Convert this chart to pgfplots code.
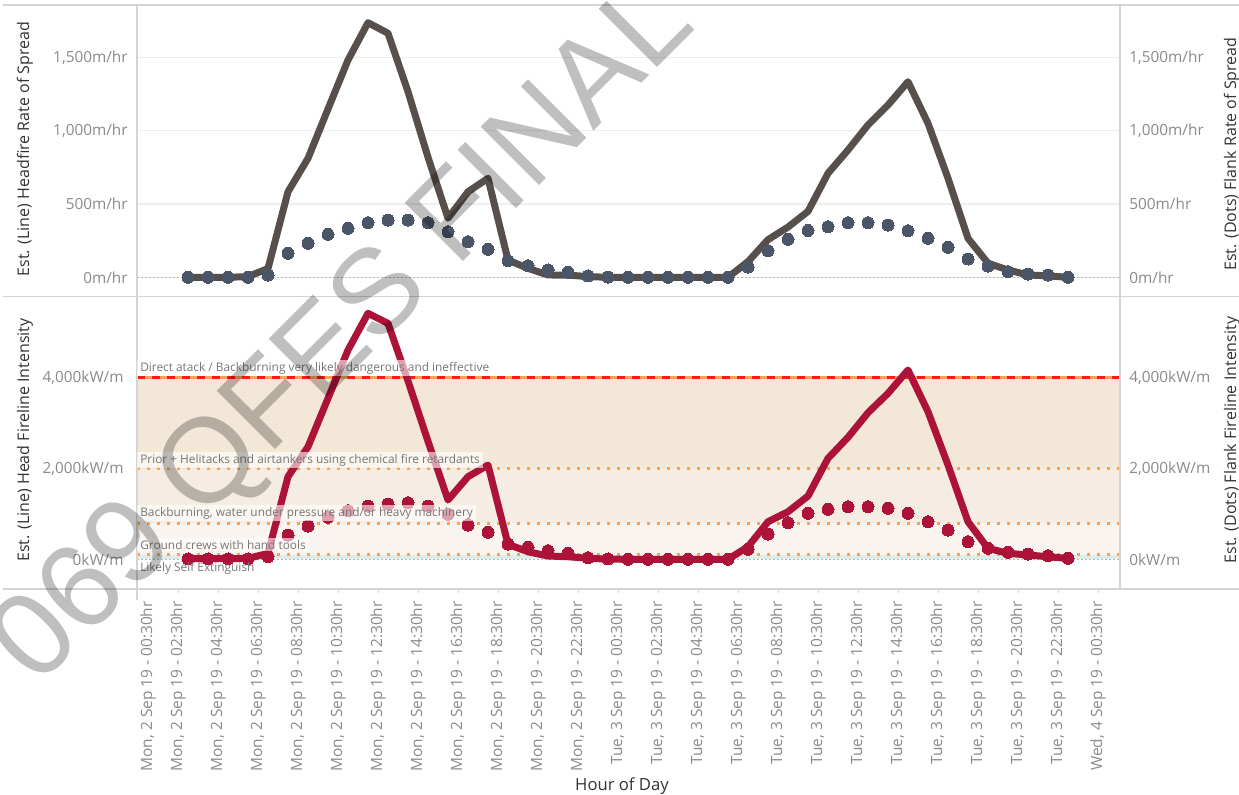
\documentclass[border=0pt]{standalone}
\usepackage{pgfplots}
\usepackage{pgfplotstable}
\pgfplotsset{compat=1.18}
\usepackage{fontspec}
\setmainfont{Open Sans}
\newfontfamily\wmfont{Liberation Sans}

\definecolor{rosline}{HTML}{574F4C}
\definecolor{rosdot}{HTML}{4A5568}
\definecolor{filine}{HTML}{AD1339}
\definecolor{ticklab}{HTML}{8A8A8A}
\definecolor{titlec}{HTML}{333333}
\definecolor{gridc}{HTML}{EEEEEE}
\definecolor{framec}{HTML}{D4D4D4}
\definecolor{zeroc}{HTML}{B8B8B8}
\definecolor{bandA}{HTML}{F3E8D8}
\definecolor{bandB}{HTML}{F5EDE3}
\definecolor{bandC}{HTML}{F9F4EF}
\definecolor{bandD}{HTML}{DDEDEA}
\definecolor{orng}{HTML}{F7A354}
\definecolor{redl}{HTML}{FF1A1A}
\definecolor{labc}{HTML}{777777}

\newcommand{\firstlab}{Mon, 2 Sep 19 - 00:30hr}

% h = hours after Mon 2 Sep 00:00
\pgfplotstableread{
h ros fros fi ffi
3 0 0 15 10
4 0 0 15 10
5 0 0 15 10
6 5 0 20 10
7 60 15 130 60
8 584 164 1820 535
9 812 232 2480 733
10 1149 293 3546 925
11 1483 334 4610 1070
12 1738 373 5419 1174
13 1666 391 5198 1218
14 1267 391 3930 1247
15 820 373 2600 1174
16 403 311 1306 991
17 584 243 1820 755
18 676 191 2077 595
19 118 113 330 337
20 61 79 167 264
21 16 50 73 190
22 15 34 57 132
23 5 9 22 35
24 0 2 5 8
25 0 0 0 0
26 0 0 0 0
27 0 0 0 0
28 0 0 0 0
29 0 0 0 0
30 0 0 0 0
31 107 70 278 220
32 257 182 828 557
33 343 259 1048 806
34 450 320 1394 1013
35 710 346 2225 1101
36 869 373 2687 1159
37 1040 373 3229 1159
38 1176 357 3656 1123
39 1335 318 4170 1013
40 1051 266 3251 828
41 676 205 2077 645
42 266 125 828 388
43 96 77 242 242
44 50 38 132 154
45 16 22 95 117
46 10 15 57 79
47 0 0 20 22
}\firedata

\pgfplotsset{
  base/.style={scale only axis, width=737.25pt, xmin=0.45, xmax=49.6,
    axis line style={draw=none},
    tick label style={font=\fontsize{11.5}{13}\selectfont, text=ticklab},
    ytick style={draw=none}},
  leftlab/.style={yticklabel style={xshift=-3.5pt}},
  rightlab/.style={yticklabel style={xshift=3.5pt}},
  headline/.style={line width=5.25pt, line join=round, line cap=round},
}

\begin{document}
\begin{tikzpicture}

% ---------- top panel: rate of spread ----------
\begin{axis}[base, leftlab, at={(102.75pt,-3.75pt)}, anchor=north west, height=218.25pt,
  ymin=-127.6, ymax=1858.7, hide x axis, axis y line*=left,
  ytick={0,500,1000,1500}, yticklabels={0m/hr,500m/hr,{1,000m/hr},{1,500m/hr}},
  ymajorgrids, grid style={gridc, line width=1pt}]
\addplot[zeroc, line width=0.75pt, dash pattern=on 1.5pt off 1.5pt] coordinates {(0.45,0) (49.6,0)};
\addplot[rosline, headline] table[x=h, y=ros] {\firedata};
\end{axis}
\begin{axis}[base, rightlab, at={(102.75pt,-3.75pt)}, anchor=north west, height=218.25pt,
  ymin=-127.6, ymax=1858.7, hide x axis, axis y line*=right,
  ytick={0,500,1000,1500}, yticklabels={0m/hr,500m/hr,{1,000m/hr},{1,500m/hr}}]
\addplot[rosdot, only marks, mark=*, mark size=4.5pt, mark options={draw=rosdot, fill=rosdot, line width=0pt}] table[x=h, y=fros] {\firedata};
\end{axis}

% ---------- bottom panel: fireline intensity ----------
\begin{axis}[base, leftlab, at={(102.75pt,-222pt)}, anchor=north west, height=219.75pt,
  ymin=-654, ymax=5800, axis y line*=left, axis x line*=bottom,
  ytick={0,2000,4000}, yticklabels={0kW/m,{2,000kW/m},{4,000kW/m}},
  tick align=outside, major tick length=3pt, xtick style={framec, line width=0.75pt},
  xtick={2.5,4.5,...,48.5},
  xticklabels={{Mon, 2 Sep 19 - 02:30hr},{Mon, 2 Sep 19 - 04:30hr},{Mon, 2 Sep 19 - 06:30hr},{Mon, 2 Sep 19 - 08:30hr},{Mon, 2 Sep 19 - 10:30hr},{Mon, 2 Sep 19 - 12:30hr},{Mon, 2 Sep 19 - 14:30hr},{Mon, 2 Sep 19 - 16:30hr},{Mon, 2 Sep 19 - 18:30hr},{Mon, 2 Sep 19 - 20:30hr},{Mon, 2 Sep 19 - 22:30hr},{Tue, 3 Sep 19 - 00:30hr},{Tue, 3 Sep 19 - 02:30hr},{Tue, 3 Sep 19 - 04:30hr},{Tue, 3 Sep 19 - 06:30hr},{Tue, 3 Sep 19 - 08:30hr},{Tue, 3 Sep 19 - 10:30hr},{Tue, 3 Sep 19 - 12:30hr},{Tue, 3 Sep 19 - 14:30hr},{Tue, 3 Sep 19 - 16:30hr},{Tue, 3 Sep 19 - 18:30hr},{Tue, 3 Sep 19 - 20:30hr},{Tue, 3 Sep 19 - 22:30hr},{Wed, 4 Sep 19 - 00:30hr}},
  extra x ticks={1}, extra x tick labels={\firstlab},
  extra x tick style={xtick style={draw=none}},
  xticklabel style={rotate=90, anchor=east, inner xsep=6pt, inner ysep=0pt, font=\fontsize{11.6}{13}\selectfont}]
% bands
\addplot[draw=none, fill=bandA] coordinates {(0.45,2000) (49.6,2000) (49.6,4000) (0.45,4000)} --cycle;
\addplot[draw=none, fill=bandB] coordinates {(0.45,800) (49.6,800) (49.6,2000) (0.45,2000)} --cycle;
\addplot[draw=none, fill=bandC] coordinates {(0.45,100) (49.6,100) (49.6,800) (0.45,800)} --cycle;
\addplot[draw=none, fill=bandD] coordinates {(0.45,0) (49.6,0) (49.6,100) (0.45,100)} --cycle;
% reference lines
\addplot[zeroc, line width=0.75pt, dash pattern=on 1.5pt off 1.5pt] coordinates {(0.45,0) (49.6,0)};
\addplot[orng, line width=2.25pt, dash pattern=on 2.25pt off 5.25pt] coordinates {(0.45,100) (49.6,100)};
\addplot[orng, line width=2.25pt, dash pattern=on 2.25pt off 5.25pt] coordinates {(0.45,800) (49.6,800)};
\addplot[orng, line width=2.25pt, dash pattern=on 2.25pt off 5.25pt] coordinates {(0.45,2000) (49.6,2000)};
\addplot[orng, line width=2.25pt] coordinates {(0.45,4000) (49.6,4000)};
\addplot[redl, line width=2.25pt, dash pattern=on 6pt off 5.25pt] coordinates {(0.45,4000) (49.6,4000)};
\addplot[filine, headline] table[x=h, y=fi] {\firedata};
\end{axis}
\begin{axis}[base, rightlab, at={(102.75pt,-222pt)}, anchor=north west, height=219.75pt,
  ymin=-654, ymax=5800, hide x axis, axis y line*=right,
  ytick={0,2000,4000}, yticklabels={0kW/m,{2,000kW/m},{4,000kW/m}}]
\addplot[filine, only marks, mark=*, mark size=4.5pt, mark options={draw=filine, fill=filine, line width=0pt}] table[x=h, y=ffi] {\firedata};
\end{axis}

\begin{scope}[x=0.75pt,y=-0.75pt]
% frame lines
\draw[framec, line width=1.1pt] (3,5) -- (1239,5);
\draw[framec, line width=1.1pt] (3,296.5) -- (1239,296.5);
\draw[framec, line width=1.1pt] (3,589) -- (1239,589);
\draw[framec, line width=0.8pt] (137,5) -- (137,600);
\draw[framec, line width=0.8pt] (1120,5) -- (1120,589);
% band labels
\begin{scope}[every node/.style={anchor=base west, fill=white, fill opacity=0.6, text opacity=1,
   text=labc, inner xsep=2.25pt, inner ysep=1.5pt, font=\fontsize{8.9}{10}\selectfont}]
\node at (137,371.5) {Direct atack / Backburning very likely dangerous and ineffective};
\node at (137,463) {Prior + Helitacks and airtankers using chemical fire retardants};
\node at (137,516.5) {Backburning, water under pressure and/or heavy machinery};
\node at (137,549) {Ground crews with hand tools};
\node[fill=none] at (137,571) {Likely Self Extinguish};
\end{scope}
% axis titles
\begin{scope}[every node/.style={rotate=90, anchor=center, text=titlec, font=\fontsize{12}{13}\selectfont, inner sep=0pt}]
\node at (25,149) {Est. (Line) Headfire Rate of Spread};
\node at (25,440) {Est. (Line) Head Fireline Intensity};
\node at (1232,154) {Est. (Dots) Flank Rate of Spread};
\node at (1232,440) {Est. (Dots) Flank Fireline Intensity};
\end{scope}
\node[text=titlec, font=\fontsize{12.5}{14}\selectfont, anchor=center] at (622,786) {Hour of Day};
% watermark
\node[font=\wmfont\fontsize{90}{90}\selectfont, text=black, text opacity=0.25, rotate=45,
  anchor=base west, inner sep=0pt] at (37,688) {069 QFES FINAL};
\pgfresetboundingbox
\useasboundingbox (0,0) rectangle (1239,794);
\end{scope}
\end{tikzpicture}
\end{document}
